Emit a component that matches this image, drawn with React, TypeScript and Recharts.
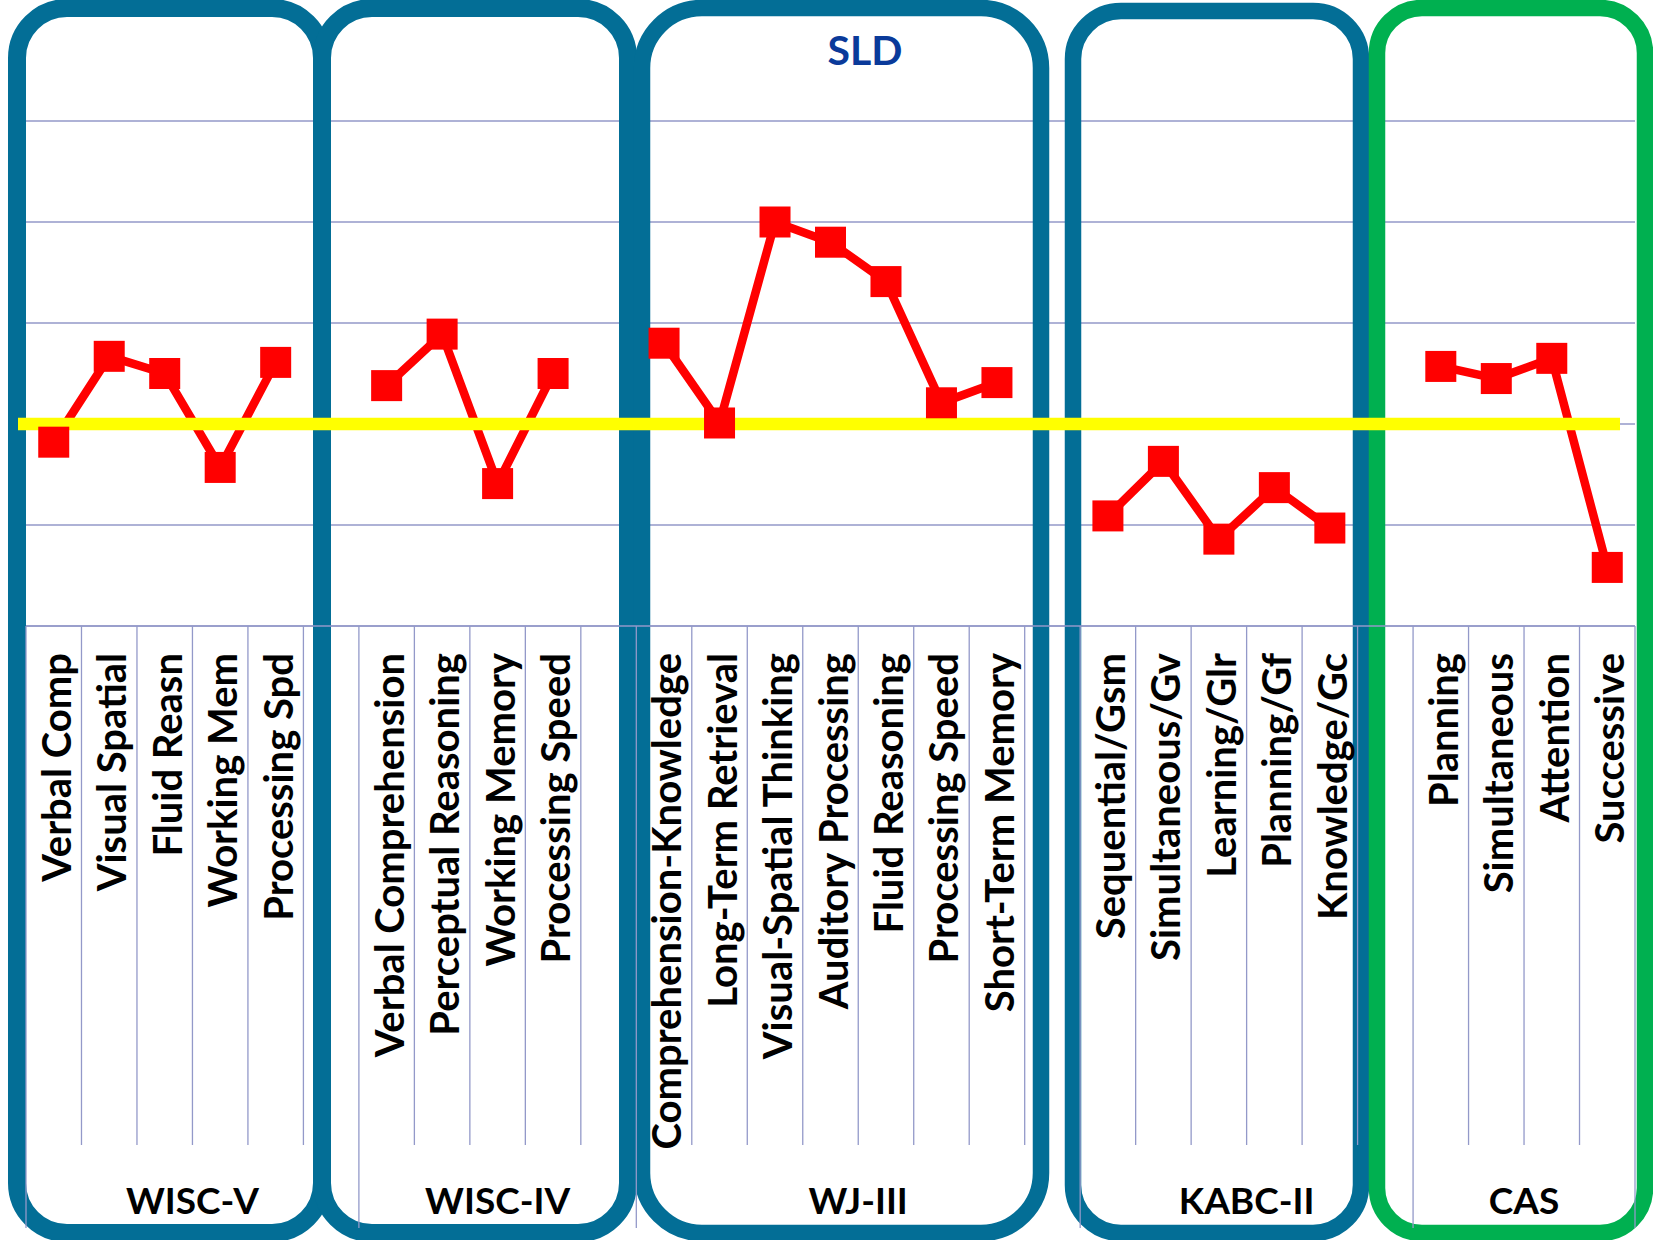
import React from "react";
import {
  LineChart,
  Line,
  XAxis,
  YAxis,
  CartesianGrid,
  ReferenceLine,
} from "recharts";

// category labels and scores per test battery ("" = spacer column)
const groupNames = ["WISC-V", "WISC-IV", "WJ-III", "KABC-II", "CAS"];

const wiscVLabels = ["Verbal Comp", "Visual Spatial", "Fluid Reasn", "Working Mem", "Processing Spd", ""];
const wiscVScores = [98.2, 106.7, 105.0, 95.7, 106.1, null];

const wiscIVLabels = ["Verbal Comprehension", "Perceptual Reasoning", "Working Memory", "Processing Speed", ""];
const wiscIVScores = [103.8, 108.9, 94.1, 105.0, null];

const wjLabels = [
  "Comprehension-Knowledge",
  "Long-Term Retrieval",
  "Visual-Spatial Thinking",
  "Auditory Processing",
  "Fluid Reasoning",
  "Processing Speed",
  "Short-Term Memory",
  "",
];
const wjScores = [108.0, 100.1, 120.0, 118.0, 114.1, 102.1, 104.1, null];

const kabcLabels = ["Sequential/Gsm", "Simultaneous/Gv", "Learning/Glr", "Planning/Gf", "Knowledge/Gc", ""];
const kabcScores = [90.9, 96.3, 88.6, 93.7, 89.7, null];

const casLabels = ["Planning", "Simultaneous", "Attention", "Successive"];
const casScores = [105.7, 104.5, 106.5, 85.8];

const yTicks = [80, 90, 100, 110, 120, 130];
const average = 100;

const groupLabels = [wiscVLabels, wiscIVLabels, wjLabels, kabcLabels, casLabels];
const groupScores = [wiscVScores, wiscIVScores, wjScores, kabcScores, casScores];

type Row = {
  idx: number;
  label: string;
  group: number;
  first: boolean;
  size: number;
  score: number | null;
};

const data: Row[] = [];
groupLabels.forEach((labels, g) => {
  labels.forEach((label, i) => {
    data.push({
      idx: data.length,
      label,
      group: g,
      first: i === 0,
      size: labels.length,
      score: groupScores[g][i],
    });
  });
});

const W = 1653;
const H = 1240;
const GRID = "#9399C9";
const BLUE = "#036E96";
const GREEN = "#00B050";
const FONT = "Lato, 'Open Sans', sans-serif";

// hand-drawn rounded frames around each battery
const frames = [
  { x: 17, w: 305, y: 8, r: 50, c: BLUE },
  { x: 322, w: 306, y: 8, r: 50, c: BLUE },
  { x: 642, w: 399, y: 8, r: 60, c: BLUE },
  { x: 1073, w: 288, y: 11, r: 48, c: BLUE },
  { x: 1377, w: 268, y: 8, r: 45, c: GREEN },
];

function CategoryTick(props: any) {
  const { x, y, payload } = props;
  const row = data[payload.value];
  if (!row) return null;
  const half = payload.offset || 27.7;
  const left = x - half;
  const textY = y + 27;
  const isLast = row.idx === data.length - 1;
  return (
    <g>
      <line
        x1={left}
        x2={left}
        y1={y}
        y2={row.first ? y + 602 : y + 519}
        stroke={GRID}
        strokeWidth={1.3}
      />
      {isLast && (
        <line x1={x + half} x2={x + half} y1={y} y2={y + 602} stroke={GRID} strokeWidth={1.3} />
      )}
      {row.label && (
        <text
          x={x + 2}
          y={textY}
          transform={`rotate(-90 ${x + 2} ${textY})`}
          textAnchor="end"
          dominantBaseline="central"
          fontFamily={FONT}
          fontWeight={700}
          fontSize={40}
          fill="#000"
        >
          {row.label}
        </text>
      )}
      {row.first && (
        <text
          x={left + row.size * half}
          y={y + 588}
          textAnchor="middle"
          fontFamily={FONT}
          fontWeight={700}
          fontSize={37}
          fill="#000"
        >
          {groupNames[row.group]}
        </text>
      )}
    </g>
  );
}

function SquareDot(props: any) {
  const { cx, cy, value } = props;
  if (value == null || cx == null || cy == null) return null;
  return <rect x={cx - 15.5} y={cy - 15.5} width={31} height={31} fill="#FF0000" />;
}

function YellowLine(props: any) {
  const { x1, x2, y1, y2 } = props;
  return <line x1={x1 - 8} x2={x2 - 15} y1={y1} y2={y2} stroke="#FFFF00" strokeWidth={12.5} />;
}

function NoTick() {
  return <g />;
}

export default function App() {
  return (
    <div style={{ position: "relative", width: W, height: H, background: "#fff" }}>
      <style>{"body{margin:0}"}</style>
      <LineChart
        width={W}
        height={H}
        data={data}
        margin={{ top: 121, right: 18, left: 26, bottom: 0 }}
      >
        <CartesianGrid
          horizontal
          vertical={false}
          horizontalValues={yTicks}
          stroke={GRID}
          strokeWidth={1.3}
        />
        <XAxis
          dataKey="idx"
          type="category"
          scale="band"
          height={614}
          interval={0}
          tickSize={0}
          tickMargin={0}
          tickLine={false}
          axisLine={{ stroke: GRID, strokeWidth: 1.3 }}
          tick={<CategoryTick />}
        />
        <YAxis
          width={0}
          domain={[80, 130]}
          ticks={yTicks}
          interval={0}
          tick={<NoTick />}
          tickLine={false}
          axisLine={{ stroke: GRID, strokeWidth: 1.3 }}
        />
        <Line
          dataKey="score"
          stroke="#FF0000"
          strokeWidth={8.5}
          strokeLinejoin="miter"
          connectNulls={false}
          dot={<SquareDot />}
          activeDot={false}
          isAnimationActive={false}
        />
        <g>
          {frames.map((f, i) => (
            <rect
              key={i}
              x={f.x}
              y={f.y}
              width={f.w}
              height={1233 - f.y}
              rx={f.r}
              ry={f.r}
              fill="none"
              stroke={f.c}
              strokeWidth={i === 0 || i === 1 ? 18 : 16.5}
            />
          ))}
          <text
            x={865}
            y={49}
            textAnchor="middle"
            dominantBaseline="central"
            fontFamily={FONT}
            fontWeight={700}
            fontSize={41}
            fill="#0A3A9A"
          >
            SLD
          </text>
        </g>
        <ReferenceLine y={average} shape={<YellowLine />} ifOverflow="visible" />
      </LineChart>
    </div>
  );
}
